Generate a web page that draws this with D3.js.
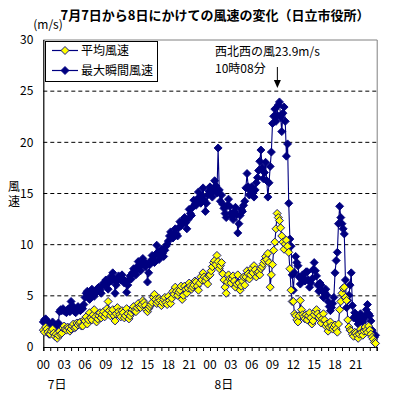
<!DOCTYPE html>
<html><head><meta charset="utf-8">
<script src="https://cdn.jsdelivr.net/npm/d3@7"></script>
<style>
html,body{margin:0;padding:0;background:#fff;}
svg{display:block;}
text{font-family:"Noto Sans CJK JP","Noto Sans",sans-serif;fill:#000;}
</style></head>
<body><svg id="c" width="399" height="399"></svg>
<script>
// 10-minute readings (6 per hour), from 00:00 of the 7th to 23:50 of the 8th
const avgSpeed = [
1.6,1.4,1.9,1.7,1.4,1.2, 1.2,1.5,1.7,1.3,1.0,1.2, 0.8,1.1,1.5,1.2,1.3,1.8, 2.0,1.7,1.6,1.9,1.8,1.5,
1.7,2.0,2.2,1.8,1.9,2.3, 2.1,2.3,2.4,2.0,2.0,2.6, 2.5,2.9,2.2,2.6,3.3,2.8, 2.6,3.1,3.6,2.9,2.4,2.7,
3.0,3.3,2.8,3.1,3.4,2.9, 3.2,3.7,4.4,3.5,3.0,3.3, 3.6,3.0,2.5,3.2,3.8,3.4, 3.1,2.9,3.5,3.3,2.8,3.0,
3.7,3.2,2.7,3.0,3.3,3.6, 3.9,3.5,3.4,3.8,4.2,3.9, 3.8,4.1,4.5,4.3,4.0,3.6, 3.4,3.7,3.9,4.1,4.3,4.8,
5.1,4.6,4.2,4.4,4.7,4.5, 4.0,4.3,4.6,4.8,4.3,4.1, 4.9,4.5,4.2,4.7,5.4,5.1, 5.8,5.4,5.0,5.3,5.5,5.9,
4.6,5.0,5.9,5.6,5.2,5.7, 6.2,5.9,5.6,5.8,6.0,6.4, 6.3,5.9,5.5,6.2,6.8,6.5, 7.2,6.8,6.4,6.7,6.1,6.9,
7.0,7.4,7.8,8.2,8.4,8.0, 8.9,8.3,7.6,7.9,8.2,7.1, 6.5,5.8,5.2,6.3,7.0,6.6, 6.2,6.6,6.9,6.4,5.8,6.1,
7.0,6.2,5.5,5.9,6.4,6.8, 6.0,6.8,7.4,7.1,6.6,7.0, 7.6,7.2,7.9,7.5,6.8,7.2, 7.3,7.0,7.6,7.8,8.1,8.4,
8.8,8.5,9.1,8.2,5.8,7.0, 8.0,9.4,10.2,11.5,13.0,12.6, 12.3,11.6,10.8,10.2,9.5,10.0, 10.4,9.8,9.2,7.6,5.5,4.4,
4.4,3.2,3.0,2.6,2.4,3.0, 4.5,3.6,3.1,2.9,2.7,3.1, 2.6,3.0,3.3,2.8,2.2,2.5, 3.1,3.4,3.6,3.2,2.8,3.0,
2.3,2.7,3.2,2.6,2.0,2.2, 1.5,1.9,2.4,2.0,1.7,1.9, 2.1,1.7,1.4,2.2,3.6,4.4, 5.2,5.7,5.8,4.8,4.5,2.6,
1.9,1.6,1.5,1.2,1.0,1.4, 1.3,1.1,0.8,1.2,1.7,1.4, 1.1,1.5,1.9,1.6,1.4,2.0, 1.6,1.2,0.9,0.7,0.4,0.3
];
const maxSpeed = [
2.4,2.6,2.7,2.5,2.2,2.3, 2.0,2.2,2.4,2.1,1.9,2.1, 2.1,2.3,3.4,3.6,3.5,3.7, 3.5,3.4,3.3,3.6,3.7,3.4,
4.4,4.0,3.6,3.4,3.3,3.6, 3.9,3.6,3.5,3.8,3.7,4.1, 4.8,5.2,5.4,5.0,4.6,5.1, 5.6,5.3,4.9,5.2,5.3,5.7,
5.8,5.5,5.2,5.9,6.2,6.0, 6.5,6.1,5.6,6.3,6.8,6.4, 7.2,6.6,5.2,6.0,6.4,6.9, 6.8,6.5,7.0,6.6,6.2,6.4,
5.3,6.0,6.5,6.9,6.6,7.2, 7.6,7.3,7.0,7.8,8.3,7.9, 7.4,8.0,8.6,8.2,7.8,8.1, 6.3,7.2,8.0,8.4,8.9,8.5,
8.2,9.0,9.9,9.2,8.5,8.8, 9.5,9.1,8.8,9.4,9.8,10.0, 10.3,10.8,11.2,10.9,10.6,11.0, 11.5,11.0,10.8,11.6,12.2,11.8,
12.0,12.3,12.6,12.1,11.5,12.4, 13.4,13.0,12.8,13.6,14.3,13.9, 13.8,14.4,15.1,14.6,14.0,14.7, 15.5,14.3,13.2,14.0,14.8,15.2,
15.6,15.0,14.6,15.4,16.2,15.7, 15.0,19.4,15.3,14.2,14.8,13.9, 13.5,13.0,12.6,13.8,14.4,13.7, 13.0,12.7,12.4,13.2,13.6,12.9,
11.1,12.0,12.8,13.4,13.2,13.8, 14.2,15.5,16.9,15.6,14.8,15.2, 15.6,15.0,14.6,15.3,16.0,16.5, 17.2,18.1,19.2,17.5,16.4,17.0,
18.0,16.2,14.6,16.0,17.6,19.0, 21.8,22.5,23.2,22.0,22.6,23.6, 23.9,22.4,21.0,22.8,23.4,22.0, 18.6,19.8,14.0,10.5,9.8,7.0,
5.5,7.2,8.8,8.2,7.9,6.8, 6.1,6.6,7.0,6.7,6.4,7.3, 7.3,6.5,5.8,6.2,6.6,7.5, 8.2,7.4,6.9,6.0,5.4,6.2,
6.0,5.4,4.8,5.3,5.6,5.0, 4.4,3.9,3.5,3.8,4.2,4.8, 7.2,8.4,9.2,12.0,13.7,12.6, 12.0,11.5,11.0,6.5,3.8,4.5,
5.0,6.0,7.2,4.0,2.8,3.3, 3.0,2.6,2.2,2.8,3.2,2.7, 2.4,2.7,3.0,3.6,4.1,3.2, 3.0,2.5,1.6,1.2,0.9,1.1
];
const seriesNames = ["平均風速","最大瞬間風速"];
const hourTickLabels = ["00","03","06","09","12","15","18","21","00","03","06","09","12","15","18","21"];
const dayLabels = ["7日","8日"];
const yTicks = [0,5,10,15,20,25,30];
const titleText = "7月7日から8日にかけての風速の変化（日立市役所）";
const noteLines = ["西北西の風23.9m/s","10時08分"];
const peakHour = 34.13;

const svg = d3.select("#c");
const x = d3.scaleLinear().domain([0,48]).range([43.3,376.7]);
const y = d3.scaleLinear().domain([0,30]).range([346.5,39.5]);
const times = avgSpeed.map((_, i) => i/6);

const navy = "#000080", yellow = "#ffff00";

// grid
svg.append("g").selectAll("line").data(yTicks.filter(v => v>0 && v<30)).join("line")
  .attr("x1", x(0)).attr("x2", x(48)).attr("y1", d=>y(d)+0.5).attr("y2", d=>y(d)+0.5)
  .attr("stroke","#000").attr("stroke-width",1).attr("stroke-dasharray","4,3");

// frame top/right grey
svg.append("path").attr("d",`M${x(0)},${y(30)+0.5}H${x(48)+0.5}V${y(0)}`)
  .attr("fill","none").attr("stroke","#808080").attr("stroke-width",1);

// x axis
const xAxis = d3.axisBottom(x).tickValues(d3.range(0,49,1)).tickSize(4).tickFormat("");
const gx = svg.append("g").attr("transform",`translate(0,${y(0)+0.5})`).call(xAxis);
gx.select(".domain").attr("stroke","#000").attr("stroke-width",1.2);
gx.selectAll(".tick line").attr("stroke","#000");
svg.append("g").selectAll("text").data(hourTickLabels).join("text")
  .attr("x",(d,i)=>x(i*3)).attr("y",369).attr("text-anchor","middle")
  .attr("font-size",12).text(d=>d);
svg.append("g").selectAll("text").data(dayLabels).join("text")
  .attr("x",(d,i)=>x(i*24+2)).attr("y",389).attr("text-anchor","middle")
  .attr("font-size",12).text(d=>d);

// y axis
const yAxis = d3.axisLeft(y).tickValues(yTicks).tickSize(0).tickPadding(10);
const gy = svg.append("g").attr("transform",`translate(${x(0)},0)`).call(yAxis);
gy.select(".domain").attr("stroke","#000").attr("stroke-width",1.2);
gy.selectAll(".tick text").attr("font-size",12).attr("font-family",'"Noto Sans CJK JP",sans-serif').attr("dy","0.35em");

svg.append("text").attr("x",48).attr("y",29).attr("text-anchor","middle").attr("font-size",12).text("(m/s)");
svg.append("text").attr("x",14).attr("y",180)
  .style("writing-mode","vertical-rl").style("letter-spacing","3px")
  .attr("font-size",12).text("風速");

// title
svg.append("text").attr("x",215).attr("y",20).attr("text-anchor","middle")
  .attr("font-size",13).attr("font-weight","bold").text(titleText);

const diamond = "M0,-4L4,0L0,4L-4,0Z";
function drawSeries(vals, fill){
  const g = svg.append("g");
  g.append("path").datum(vals)
    .attr("d", d3.line().x((d,i)=>x(times[i])).y(d=>y(d)))
    .attr("fill","none").attr("stroke",navy).attr("stroke-width",1.1);
  g.selectAll("path.m").data(vals).join("path").attr("class","m")
    .attr("d",diamond).attr("transform",(d,i)=>`translate(${x(times[i])},${y(d)})`)
    .attr("fill",fill).attr("stroke",navy).attr("stroke-width",0.9);
}
drawSeries(maxSpeed, navy);
drawSeries(avgSpeed, yellow);

// legend
const lg = svg.append("g");
lg.append("rect").attr("x",45.5).attr("y",41.5).attr("width",112).attr("height",40)
  .attr("fill","#fff").attr("stroke","#000").attr("stroke-width",1);
[[yellow,seriesNames[0],50.5],[navy,seriesNames[1],70.5]].forEach(([f,name,yy])=>{
  lg.append("line").attr("x1",52).attr("x2",78).attr("y1",yy).attr("y2",yy).attr("stroke",navy).attr("stroke-width",1.2);
  lg.append("path").attr("d",diamond).attr("transform",`translate(65,${yy})`).attr("fill",f).attr("stroke",navy).attr("stroke-width",0.9);
  lg.append("text").attr("x",81).attr("y",yy).attr("dy","0.36em").attr("font-size",12).text(name);
});

// annotation
svg.append("text").attr("x",215).attr("y",55.5).attr("font-size",12).text(noteLines[0]);
svg.append("text").attr("x",215).attr("y",73).attr("font-size",12).text(noteLines[1]);
const ax = x(peakHour)-3;
svg.append("line").attr("x1",ax).attr("x2",ax).attr("y1",67).attr("y2",82).attr("stroke","#000").attr("stroke-width",1);
svg.append("path").attr("d",`M${ax-3.5},80L${ax+3.5},80L${ax},88Z`).attr("fill","#000");
</script></body></html>
